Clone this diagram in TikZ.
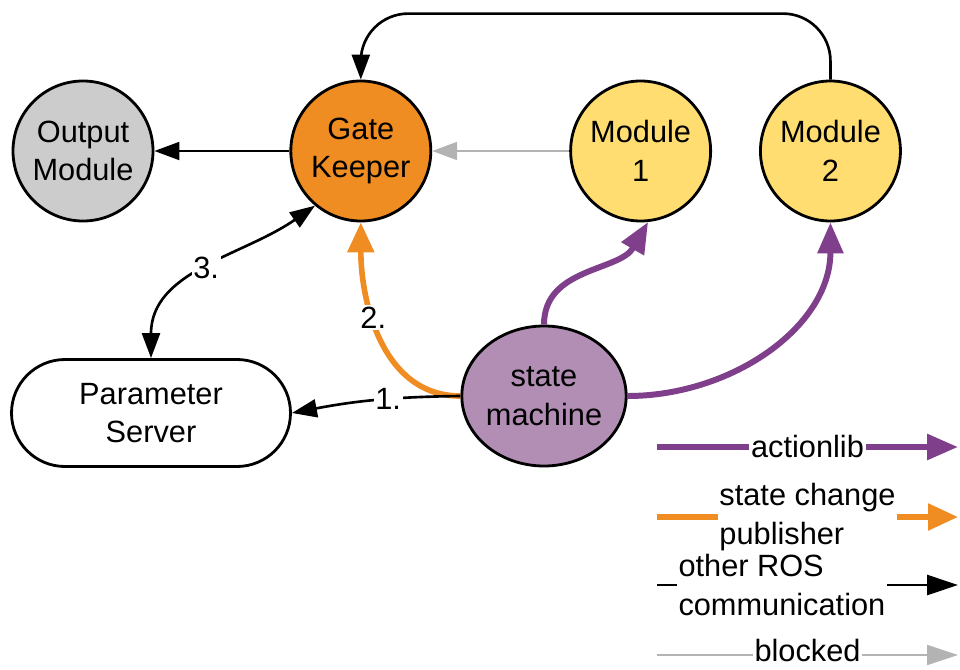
\documentclass[tikz,border=0pt]{standalone}
\usepackage{fontspec}
\setmainfont{Liberation Sans}
\usetikzlibrary{arrows.meta,positioning,shapes.geometric}
\definecolor{cpurple}{HTML}{7F3F8A}
\definecolor{clilac}{HTML}{B28EB5}
\definecolor{corange}{HTML}{EF8D22}
\definecolor{cyellow}{HTML}{FFDD71}
\definecolor{cgray}{HTML}{CCCCCC}
\definecolor{cblock}{HTML}{B3B3B3}

\begin{document}
\begin{tikzpicture}[
  node distance=2.74cm,
  font=\fontsize{17.5}{22}\selectfont,
  mod/.style={draw, circle, line width=1.6pt, minimum size=2.8cm,
              inner sep=0pt, align=center},
  conn/.style={line width=1.5pt, -{Triangle[length=0.5cm,width=0.36cm]}},
  both/.style={line width=1.5pt,
               {Triangle[length=0.5cm,width=0.36cm]}-{Triangle[length=0.5cm,width=0.36cm]}},
  act/.style={line width=3.4pt, color=cpurple, -{Triangle[length=0.62cm,width=0.5cm]}},
  pub/.style={line width=3.2pt, color=corange, -{Triangle[length=0.6cm,width=0.52cm]}},
  lbl/.style={fill=white, inner sep=1pt, align=left, text=black}
]
\useasboundingbox (0,0) rectangle (19.2,13.38);

\node[mod, fill=cgray] (out) at (1.66,10.36) {Output\\Module};
\node[mod, fill=corange, right=2.7cm of out] (gate) {Gate\\Keeper};
\node[mod, fill=cyellow, right=of gate] (mod1) {Module\\1};
\node[mod, fill=cyellow, right=0.94cm of mod1] (mod2) {Module\\2};
\node[draw, ellipse, fill=clilac, line width=1.6pt, minimum width=3.16cm,
      minimum height=2.8cm, inner sep=0pt, align=center] (sm) at (10.88,5.46) {state\\machine};
\node[draw, rounded corners=1.07cm, line width=1.6pt, minimum width=5.58cm,
      minimum height=2.14cm, align=center] (param) at (3.02,5.12) {Parameter\\Server};

\draw[conn, line width=1.2pt] (gate.west) -- (out.east);
\draw[conn, line width=1.2pt, color=cblock] (mod1.west) -- (gate.east);
\draw[conn, rounded corners=0.95cm] (mod2.north) -- ++(0,1.32) -| (gate.north);
\draw[act] (sm.north) to[out=90,in=-120] (mod1.-84);
\draw[act] (sm.east) to[out=0,in=-90] (mod2.south);
\draw[pub] (sm.west) to[out=180,in=-90] node[lbl, pos=0.6] {2.} (gate.south);
\draw[conn] (sm.west) to[bend right=5] node[lbl, pos=0.42] {1.} (param.east);
\draw[both] (param.north) to[out=90,in=-145] node[lbl, pos=0.5] {3.} (gate.-130);

\coordinate (a1) at (13.14,4.44);
\coordinate (a2) at (19.16,4.44);
\coordinate (p1) at (13.14,3.04);
\coordinate (p2) at (19.16,3.04);
\coordinate (r1) at (13.14,1.68);
\coordinate (r2) at (19.16,1.68);
\coordinate (b1) at (13.14,0.28);
\coordinate (b2) at (19.16,0.28);

\draw[act] (a1) -- node[lbl] {actionlib} (a2);
\draw[pub] (p1) -- node[lbl] {state change\\publisher} (p2);
\draw[conn, -{Triangle[length=0.62cm,width=0.4cm]}] (r1) -- node[lbl, pos=0.415] {other ROS\\communication} (r2);
\draw[conn, line width=1.2pt, color=cblock, -{Triangle[length=0.62cm,width=0.4cm]}] (b1) -- node[lbl, yshift=2.5pt] {blocked} (b2);
\end{tikzpicture}
\end{document}
